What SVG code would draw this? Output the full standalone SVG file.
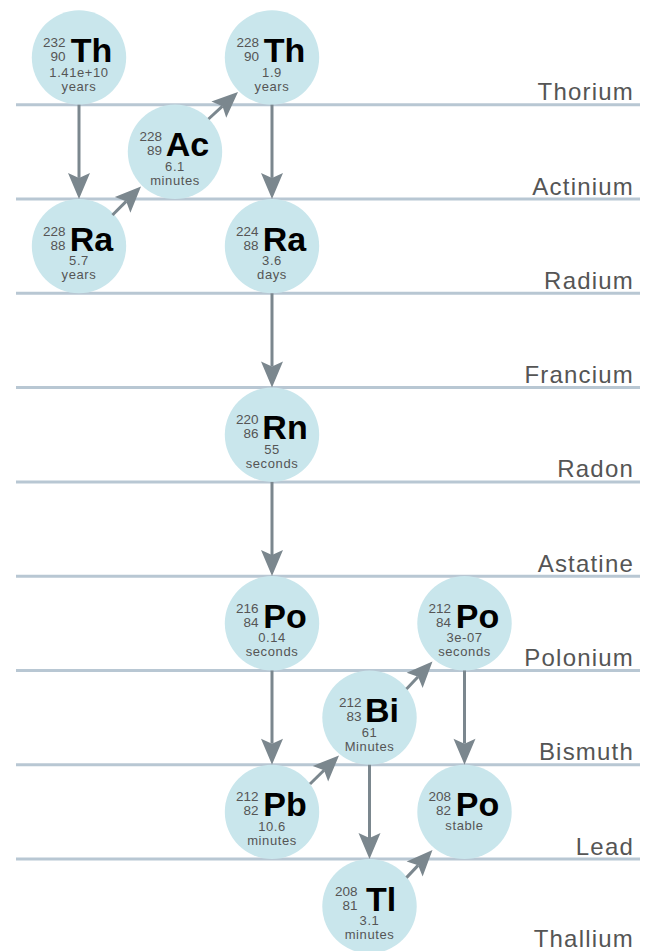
<svg xmlns="http://www.w3.org/2000/svg" width="647" height="951" viewBox="0 0 647 951">
  <style>
    .rule { stroke: #b8c7d3; stroke-width: 3; }
    .elem { font-family: "Liberation Sans", Arial, sans-serif; font-size: 24px; fill: #555; text-anchor: end; letter-spacing: 1.2px; }
    .disc { fill: #c9e6ec; }
    .num { font-family: "Liberation Sans", Arial, sans-serif; font-size: 13.5px; fill: #555; text-anchor: end; }
    .sym { font-family: "Liberation Sans", Arial, sans-serif; font-size: 34px; font-weight: bold; fill: #000; text-anchor: middle; }
    .life { font-family: "Liberation Sans", Arial, sans-serif; font-size: 13px; fill: #555; text-anchor: middle; letter-spacing: 0.6px; }
    .link { stroke: #7b878e; stroke-width: 3; fill: none; marker-end: url(#head); }
  </style>
  <defs>
    <marker id="head" markerUnits="userSpaceOnUse" orient="auto" refX="0" refY="0" markerWidth="30" markerHeight="30" overflow="visible">
      <path d="M21 0 L-5 -11 L0 0 L-5 11 Z" fill="#7b878e"/>
    </marker>
  </defs>

  <!-- element rows -->
  <g id="rows">
    <line class="rule" x1="16" y1="104.7" x2="640" y2="104.7"/>
    <line class="rule" x1="16" y1="199.0" x2="640" y2="199.0"/>
    <line class="rule" x1="16" y1="293.3" x2="640" y2="293.3"/>
    <line class="rule" x1="16" y1="387.6" x2="640" y2="387.6"/>
    <line class="rule" x1="16" y1="481.9" x2="640" y2="481.9"/>
    <line class="rule" x1="16" y1="576.2" x2="640" y2="576.2"/>
    <line class="rule" x1="16" y1="670.5" x2="640" y2="670.5"/>
    <line class="rule" x1="16" y1="764.8" x2="640" y2="764.8"/>
    <line class="rule" x1="16" y1="859.1" x2="640" y2="859.1"/>
    <text class="elem" x="634" y="100.2">Thorium</text>
    <text class="elem" x="634" y="194.5">Actinium</text>
    <text class="elem" x="634" y="288.8">Radium</text>
    <text class="elem" x="634" y="383.1">Francium</text>
    <text class="elem" x="634" y="477.4">Radon</text>
    <text class="elem" x="634" y="571.7">Astatine</text>
    <text class="elem" x="634" y="666">Polonium</text>
    <text class="elem" x="634" y="760.3">Bismuth</text>
    <text class="elem" x="634" y="854.6">Lead</text>
    <text class="elem" x="634" y="946.5">Thallium</text>
  </g>

  <!-- isotopes -->
  <g id="th232" transform="translate(79,57.5)">
    <circle class="disc" r="47.2"/>
    <text class="num" x="-13.5" y="-10.5">232</text><text class="num" x="-13.5" y="3.5">90</text>
    <text class="sym" x="12.5" y="4.5">Th</text>
    <text class="life" y="19">1.41e+10</text><text class="life" y="33">years</text>
  </g>
  <g id="ac228" transform="translate(175,151.8)">
    <circle class="disc" r="47.2"/>
    <text class="num" x="-13" y="-10.5">228</text><text class="num" x="-13" y="3.5">89</text>
    <text class="sym" x="12.5" y="4.5">Ac</text>
    <text class="life" y="19">6.1</text><text class="life" y="33">minutes</text>
  </g>
  <g id="th228" transform="translate(272,57.5)">
    <circle class="disc" r="47.2"/>
    <text class="num" x="-13" y="-10.5">228</text><text class="num" x="-13" y="3.5">90</text>
    <text class="sym" x="12.5" y="4.5">Th</text>
    <text class="life" y="19">1.9</text><text class="life" y="33">years</text>
  </g>
  <g id="ra228" transform="translate(79,246.1)">
    <circle class="disc" r="47.2"/>
    <text class="num" x="-13.5" y="-10.5">228</text><text class="num" x="-13.5" y="3.5">88</text>
    <text class="sym" x="12.5" y="4.5">Ra</text>
    <text class="life" y="19">5.7</text><text class="life" y="33">years</text>
  </g>
  <g id="ra224" transform="translate(272,246.1)">
    <circle class="disc" r="47.2"/>
    <text class="num" x="-13.5" y="-10.5">224</text><text class="num" x="-13.5" y="3.5">88</text>
    <text class="sym" x="12.5" y="4.5">Ra</text>
    <text class="life" y="19">3.6</text><text class="life" y="33">days</text>
  </g>
  <g id="rn220" transform="translate(272,434.7)">
    <circle class="disc" r="47.2"/>
    <text class="num" x="-13.5" y="-10.5">220</text><text class="num" x="-13.5" y="3.5">86</text>
    <text class="sym" x="13" y="4.5">Rn</text>
    <text class="life" y="19">55</text><text class="life" y="33">seconds</text>
  </g>
  <g id="po216" transform="translate(272,623.3)">
    <circle class="disc" r="47.2"/>
    <text class="num" x="-13.5" y="-10.5">216</text><text class="num" x="-13.5" y="3.5">84</text>
    <text class="sym" x="13" y="4.5">Po</text>
    <text class="life" y="19">0.14</text><text class="life" y="33">seconds</text>
  </g>
  <g id="po212" transform="translate(464.5,623.3)">
    <circle class="disc" r="47.2"/>
    <text class="num" x="-13.5" y="-10.5">212</text><text class="num" x="-13.5" y="3.5">84</text>
    <text class="sym" x="13" y="4.5">Po</text>
    <text class="life" y="19">3e-07</text><text class="life" y="33">seconds</text>
  </g>
  <g id="bi212" transform="translate(369.5,717.6)">
    <circle class="disc" r="47.2"/>
    <text class="num" x="-8" y="-10.5">212</text><text class="num" x="-8" y="3.5">83</text>
    <text class="sym" x="12.5" y="4.5">Bi</text>
    <text class="life" y="19">61</text><text class="life" y="33">Minutes</text>
  </g>
  <g id="pb212" transform="translate(272,811.9)">
    <circle class="disc" r="47.2"/>
    <text class="num" x="-13.5" y="-10.5">212</text><text class="num" x="-13.5" y="3.5">82</text>
    <text class="sym" x="13" y="4.5">Pb</text>
    <text class="life" y="19">10.6</text><text class="life" y="33">minutes</text>
  </g>
  <g id="po208" transform="translate(464.5,811.9)">
    <circle class="disc" r="47.2"/>
    <text class="num" x="-13.5" y="-10.5">208</text><text class="num" x="-13.5" y="3.5">82</text>
    <text class="sym" x="13" y="4.5">Po</text>
    <text class="life" y="18">stable</text>
  </g>
  <g id="tl208" transform="translate(369.5,906.2)">
    <circle class="disc" r="47.2"/>
    <text class="num" x="-12" y="-10.5">208</text><text class="num" x="-12" y="3.5">81</text>
    <text class="sym" x="11.5" y="4.5">Tl</text>
    <text class="life" y="19">3.1</text><text class="life" y="33">minutes</text>
  </g>

  <!-- decay steps -->
  <g id="connectors">
    <line class="link" x1="79" y1="104.7" x2="79" y2="177.9"/>
    <line class="link" x1="112.5" y1="215" x2="126.15" y2="201.35"/>
    <line class="link" x1="208.5" y1="119" x2="222.51" y2="106.18"/>
    <line class="link" x1="272" y1="104.7" x2="272" y2="177.9"/>
    <line class="link" x1="272" y1="293.3" x2="272" y2="366.5"/>
    <line class="link" x1="272" y1="481.9" x2="272" y2="555.1"/>
    <line class="link" x1="272" y1="670.5" x2="272" y2="743.7"/>
    <line class="link" x1="310" y1="784" x2="324.02" y2="770.22"/>
    <line class="link" x1="406.5" y1="689" x2="418.07" y2="676.76"/>
    <line class="link" x1="369.5" y1="764.8" x2="369.5" y2="838"/>
    <line class="link" x1="464.5" y1="670.5" x2="464.5" y2="743.7"/>
    <line class="link" x1="406.5" y1="877.6" x2="418.07" y2="865.36"/>
  </g>
</svg>
